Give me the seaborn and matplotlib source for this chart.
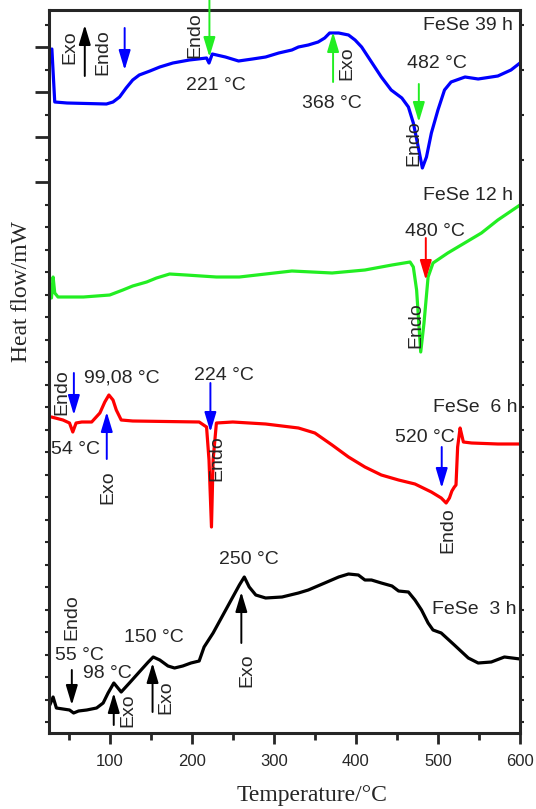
import numpy as np
import pandas as pd
import matplotlib
matplotlib.use("Agg")
import matplotlib.pyplot as plt
import seaborn as sns

# ---------------- data (heat flow in arbitrary offset units) ----------------
T_39h = [29.5, 33, 48, 96, 104, 112, 120, 128, 136, 149, 161, 177, 197, 218, 221, 225, 241, 257, 274,
         290, 306, 322, 330, 342, 354, 362, 368, 379, 391, 399, 407, 419, 431, 443, 456, 464, 470,
         476, 481, 486, 492, 500, 508, 516, 533, 549, 573, 589, 600]
HF_39h = [684, 631, 630, 629, 631, 636, 645, 653, 658, 662, 666, 670, 673, 675, 670, 679, 676, 672, 674,
          676, 680, 683, 686, 688, 691, 695, 700, 700, 698, 693, 686, 671, 656, 643, 635, 626, 610,
          586, 565, 576, 600, 623, 643, 651, 656, 654, 657, 663, 670]

T_12h = [29, 31, 33, 37, 68, 100, 116, 128, 145, 157, 165, 173, 193, 230, 258, 290, 322, 371, 411,
         444, 466, 470, 474, 479, 483, 488, 494, 512, 553, 573, 600]
HF_12h = [435, 456, 440, 436, 436, 438, 443, 447, 451, 455, 457, 459, 458, 456, 456, 459, 462, 460, 463,
          468, 471, 466, 443, 381, 410, 456, 470, 480, 500, 513, 528]

T_6h = [29, 43, 51, 55, 59, 66, 78, 88, 94, 99, 104, 108, 114, 128, 209, 218, 221, 224, 226, 230, 250,
        290, 330, 350, 371, 391, 411, 431, 452, 472, 492, 504, 510, 514, 517, 520, 522, 524, 527, 529,
        531, 541, 573, 600]
HF_6h = [316, 313, 310, 301, 310, 311, 311, 320, 331, 338, 333, 323, 313, 312, 311, 306, 273, 206, 273, 310, 311,
         309, 305, 300, 288, 276, 266, 258, 253, 249, 241, 235, 230, 235, 242, 246, 248, 286, 305, 298,
         291, 290, 289, 289]

T_3h = [27, 31, 35, 43, 51, 56, 62, 72, 84, 92, 98, 105, 110, 114, 124, 136, 147, 153, 161, 171, 179,
        189, 199, 209, 215, 226, 238, 250, 258, 264, 270, 278, 290, 310, 330, 342, 362, 379, 391, 403,
        411, 419, 431, 444, 452, 464, 472, 480, 488, 494, 504, 520, 537, 549, 565, 581, 600]
HF_3h = [28, 36, 25, 24, 23, 20, 22, 23, 25, 30, 40, 50, 45, 41, 50, 61, 71, 76, 73, 67, 65,
         67, 70, 72, 86, 100, 118, 136, 148, 156, 146, 138, 135, 136, 140, 143, 150, 156, 159, 158,
         153, 153, 150, 147, 142, 141, 133, 123, 110, 103, 100, 88, 75, 70, 71, 76, 74]

series_names = ["FeSe 39 h", "FeSe 12 h", "FeSe 6 h", "FeSe 3 h"]
series_colors = ["#0000FF", "#22EE22", "#FF0000", "#000000"]

x_ticks = [100, 200, 300, 400, 500, 600]

frames = []
for name, T, HF in zip(series_names, [T_39h, T_12h, T_6h, T_3h], [HF_39h, HF_12h, HF_6h, HF_3h]):
    frames.append(pd.DataFrame({"T": T, "HF": HF, "sample": name}))
df = pd.concat(frames, ignore_index=True)

# ---------------- style ----------------
sns.set_style("ticks")
plt.rcParams['font.family'] = ['Liberation Sans', 'DejaVu Sans']

fig = plt.figure(figsize=(5.36, 8.09), dpi=100)
ax = fig.add_axes([49 / 536, 76 / 809, 471 / 536, 723 / 809])

for name, col in zip(series_names, series_colors):
    sns.lineplot(data=df[df["sample"] == name], x="T", y="HF", color=col, lw=2.3,
                 ax=ax, legend=False, sort=False, estimator=None)

ax.set_xlim(26, 600)
ax.set_ylim(0, 723)

for s in ax.spines.values():
    s.set_linewidth(2.2)
    s.set_visible(True)

ax.set_xticks(x_ticks)
ax.set_xticks([50, 150, 250, 350, 450, 550], minor=True)
ax.tick_params(axis='x', which='major', direction='out', length=8, width=2, labelsize=12, pad=7)
ax.tick_params(axis='x', which='minor', direction='out', length=5, width=2)
ax.set_yticks([551, 596, 641, 686])
ax.set_yticks(np.arange(11, 723, 22.5), minor=True)
ax.tick_params(axis='y', which='major', direction='out', length=10, width=2, labelleft=False)
ax.tick_params(axis='y', which='minor', direction='out', length=3, width=1.5,
               right=True, left=True)

ax.set_xlabel("Temperature/°C", family=['Liberation Serif'], fontsize=17)
ax.xaxis.set_label_coords(0.558, -0.072)
ax.set_ylabel("Heat flow/mW", family=['Liberation Serif'], fontsize=17)
ax.yaxis.set_label_coords(-0.036, 0.61)

FS = 14

def txt(x, y, s, rot=0, ha='center'):
    ax.text(x, y, s, fontsize=FS, rotation=rot, ha=ha, va='center', clip_on=False)

def arrow(x, y0, y1, color):
    ax.annotate("", xy=(x, y1), xytext=(x, y0), annotation_clip=False,
                arrowprops=dict(arrowstyle='-|>,head_length=0.6,head_width=0.18',
                                mutation_scale=20, color=color, lw=1.4,
                                shrinkA=0, shrinkB=0))

# 39 h
txt(51.4, 686, "Exo", 90)
arrow(69.6, 657, 708, "black")
txt(91.5, 681, "Endo", 90)
arrow(118.2, 705, 663, "#0000FF")
txt(203.3, 698, "Endo", 90)
arrow(221.5, 735, 676, "#22EE22")
txt(228.8, 647, "221 °C")
arrow(372.2, 651, 701, "#22EE22")
txt(389.2, 670, "Exo", 90)
txt(371, 630, "368 °C")
txt(498.5, 670, "482 °C")
arrow(476.7, 649, 611, "#22EE22")
txt(470.6, 590, "Endo", 90)
txt(591, 708, "FeSe 39 h", ha='right')

# 12 h
txt(591, 538, "FeSe 12 h", ha='right')
txt(496.1, 501, "480 °C")
arrow(485.2, 495, 453, "#FF0000")
txt(473, 408, "Endo", 90)

# 6 h
txt(41.7, 341, "Endo", 90)
arrow(56.3, 360, 318, "#0000FF")
txt(114.6, 355, "99,08 °C")
txt(58.7, 283, "54 °C")
arrow(96.4, 274, 321, "#0000FF")
txt(97.6, 246, "Exo", 90)
txt(239.7, 358, "224 °C")
arrow(222.7, 350, 301, "#0000FF")
txt(230, 275, "Endo", 90)
txt(597, 325, "FeSe  6 h", ha='right')
txt(484, 296, "520 °C")
arrow(504.6, 286, 245, "#0000FF")
txt(511.9, 203, "Endo", 90)

# 3 h
txt(270, 174, "250 °C")
arrow(260.4, 90, 141, "black")
txt(267.7, 63, "Exo", 90)
txt(53.8, 116, "Endo", 90)
txt(63.5, 78, "55 °C")
arrow(53.8, 63, 28, "black")
txt(97.6, 60, "98 °C")
arrow(104.9, 8, 40, "black")
txt(121.9, 23, "Exo", 90)
txt(153.5, 96, "150 °C")
arrow(152.2, 21, 70, "black")
txt(168, 36, "Exo", 90)
txt(595.7, 123, "FeSe  3 h", ha='right')

fig.savefig("out.png", dpi=100)
